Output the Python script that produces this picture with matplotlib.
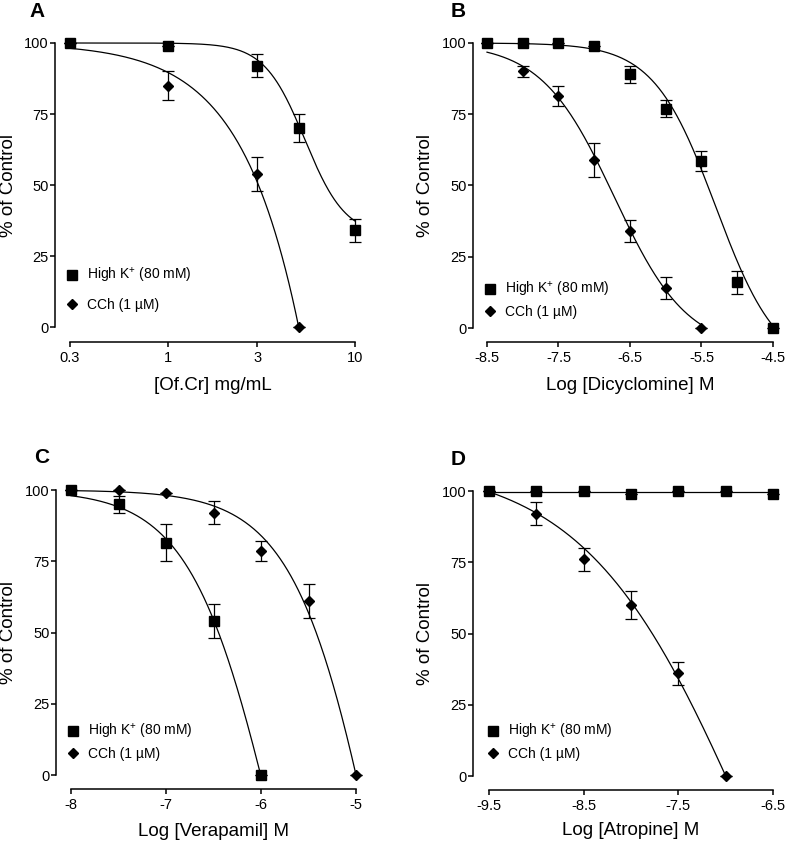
import numpy as np
import matplotlib
matplotlib.use("Agg")
import matplotlib.pyplot as plt
from matplotlib.lines import Line2D

plt.rcParams['font.family'] = ['Liberation Sans', 'DejaVu Sans']
plt.rcParams['mathtext.fontset'] = 'custom'
plt.rcParams['mathtext.rm'] = 'Liberation Sans'
plt.rcParams['mathtext.it'] = 'Liberation Sans'
plt.rcParams['axes.unicode_minus'] = False

# ---------------- data ----------------
Y_TICKS = [0, 25, 50, 75, 100]
LEGEND_LABELS = [r'High K$^{+}$ (80 mM)', 'CCh (1 µM)']

# Panel A
A_HK_X = [0.3, 1, 3, 5, 10]
A_HK = [100, 99, 92, 70, 34]
A_HK_ERR = [0, 0, 4, 5, 4]
A_CCH_X = [0.3, 1, 3, 5]
A_CCH = [100, 85, 54, 0]
A_CCH_ERR = [0, 5, 6, 0]
A_XTICKS = [0.3, 1, 3, 10]
A_XTICKLABELS = ['0.3', '1', '3', '10']
A_HK_FIT = (100, 32, 0.732, 4.0)      # top, bottom, log EC50, hill slope
A_CCH_FIT = (100, -5000, 1.8955, 1.42)

# Panel B
B_HK_X = [-8.5, -8, -7.5, -7, -6.5, -6, -5.5, -5, -4.5]
B_HK = [100, 100, 100, 99, 89, 77, 58.5, 16, 0]
B_HK_ERR = [0, 0, 0, 0, 3, 3, 3.5, 4, 0]
B_CCH_X = [-8.5, -8, -7.5, -7, -6.5, -6, -5.5]
B_CCH = [100, 90, 81.5, 59, 34, 14, 0]
B_CCH_ERR = [0, 2, 3.5, 6, 4, 4, 0]
B_XTICKS = [-8.5, -7.5, -6.5, -5.5, -4.5]
B_HK_FIT = (100, -15, -5.3, 1.0)
B_CCH_FIT = (100, -8, -6.72, 0.85)

# Panel C
C_HK_X = [-8, -7.5, -7, -6.5, -6]
C_HK = [100, 95, 81.5, 54, 0]
C_HK_ERR = [0, 3, 6.5, 6, 0]
C_CCH_X = [-8, -7.5, -7, -6.5, -6, -5.5, -5]
C_CCH = [100, 100, 99, 92, 78.5, 61, 0]
C_CCH_ERR = [0, 0, 0, 4, 3.5, 6, 0]
C_XTICKS = [-8, -7, -6, -5]
C_HK_FIT = (100, -150, -5.82, 0.96)
C_CCH_FIT = (100, -200, -4.682, 0.948)

# Panel D
D_HK_X = [-9.5, -9, -8.5, -8, -7.5, -7, -6.5]
D_HK = [100, 100, 100, 99, 100, 100, 99]
D_HK_ERR = [0, 0, 0, 0, 0, 0, 0]
D_CCH_X = [-9.5, -9, -8.5, -8, -7.5, -7]
D_CCH = [100, 92, 76, 60, 36, 0]
D_CCH_ERR = [0, 4, 4, 5, 4, 0]
D_XTICKS = [-9.5, -8.5, -7.5, -6.5]
D_HK_FIT = (99.6, 99.6, -8.0, 1.0)
D_CCH_FIT = (110, -150, -6.73, 0.5)


def hill(logx, fit):
    top, bottom, logc, h = fit
    return bottom + (top - bottom) / (1 + 10 ** (h * (logx - logc)))


W, H = 787, 846
fig = plt.figure(figsize=(W / 100, H / 100), dpi=100)


def px_axes(x0, x1, y_top, y_bot):
    return fig.add_axes([x0 / W, 1 - y_bot / H, (x1 - x0) / W, (y_bot - y_top) / H])


def style(ax, box, xlim, xticks, xticklabels, xlabel, left_off, bot_off,
          letter, letter_xy, ylab_right, xlab_top):
    x0, x1, yt, yb = box
    ax.set_xlim(*xlim)
    ax.set_ylim(0, 100)
    for s in ['top', 'right']:
        ax.spines[s].set_visible(False)
    ax.spines['left'].set_position(('outward', left_off * 0.72))
    ax.spines['bottom'].set_position(('outward', bot_off * 0.72))
    for s in ['left', 'bottom']:
        ax.spines[s].set_linewidth(1.1)
    ax.set_yticks(Y_TICKS)
    ax.set_xticks(xticks)
    ax.set_xticklabels(xticklabels)
    ax.minorticks_off()
    ax.tick_params(axis='both', direction='out', length=3.6, width=1.1,
                   labelsize=10.5)
    ax.tick_params(axis='y', pad=1)
    ax.tick_params(axis='x', pad=3)
    ax.set_xlabel(xlabel, fontsize=13.5)
    ax.set_ylabel('% of Control', fontsize=13.5)
    ax.xaxis.set_label_coords((x0 + x1) / 2 / W, 1 - xlab_top / H, transform=fig.transFigure)
    ax.yaxis.set_label_coords(ylab_right / W, 1 - (yt + yb) / 2 / H, transform=fig.transFigure)
    fig.text(letter_xy[0] / W, 1 - letter_xy[1] / H, letter, fontsize=15,
             fontweight='bold', ha='left', va='top')


def draw(ax, hkx, hk, hkerr, cx, c, cerr, hkfit, cfit, logscale=False):
    def lx(v):
        return np.log10(v) if logscale else np.asarray(v, float)
    for xs, fit in ((cx, cfit), (hkx, hkfit)):
        xx = np.linspace(lx(xs[0]), lx(xs[-1]), 400)
        yy = hill(xx, fit)
        if logscale:
            xx = 10 ** xx
        ax.plot(xx, yy, color='black', lw=0.9, clip_on=False, zorder=2)
    ax.errorbar(cx, c, yerr=cerr, fmt='D', ms=5.6, color='black', ecolor='black',
                elinewidth=0.9, capsize=4, capthick=0.9, clip_on=False, zorder=3)
    ax.errorbar(hkx, hk, yerr=hkerr, fmt='s', ms=7.5, color='black', ecolor='black',
                elinewidth=0.9, capsize=4, capthick=0.9, clip_on=False, zorder=4)


def legend(ax, x_marker, y_first, spacing):
    handles = [Line2D([], [], marker='s', ms=7.5, color='black', ls='none'),
               Line2D([], [], marker='D', ms=5.6, color='black', ls='none')]
    ax.legend(handles, LEGEND_LABELS, loc='upper left', frameon=False,
              bbox_to_anchor=((x_marker - 7) / W, 1 - (y_first - 10) / H),
              bbox_transform=fig.transFigure, borderpad=0, borderaxespad=0,
              handlelength=1.0, handletextpad=0.6, labelspacing=spacing,
              fontsize=10)


# Panel A
boxA = (70, 355, 43, 327)
axA = px_axes(*boxA)
axA.set_xscale('log')
draw(axA, A_HK_X, A_HK, A_HK_ERR, A_CCH_X, A_CCH, A_CCH_ERR, A_HK_FIT, A_CCH_FIT, logscale=True)
style(axA, boxA, (0.3, 10), A_XTICKS, A_XTICKLABELS, '[Of.Cr] mg/mL', 15, 15,
      'A', (29, 2), 17, 377)
legend(axA, 72, 276, 0.9)

# Panel B
boxB = (487, 773, 43, 328)
axB = px_axes(*boxB)
draw(axB, B_HK_X, B_HK, B_HK_ERR, B_CCH_X, B_CCH, B_CCH_ERR, B_HK_FIT, B_CCH_FIT)
style(axB, boxB, (-8.5, -4.5), B_XTICKS, [f'{t:g}' for t in B_XTICKS],
      'Log [Dicyclomine] M', 14, 14, 'B', (451, 2), 434, 377)
legend(axB, 490, 290, 0.45)

# Panel C
boxC = (71, 356, 490, 775)
axC = px_axes(*boxC)
draw(axC, C_HK_X, C_HK, C_HK_ERR, C_CCH_X, C_CCH, C_CCH_ERR, C_HK_FIT, C_CCH_FIT)
style(axC, boxC, (-8, -5), C_XTICKS, [f'{t:g}' for t in C_XTICKS],
      'Log [Verapamil] M', 15, 14, 'C', (34, 448), 17, 823)
legend(axC, 73, 732, 0.45)

# Panel D
boxD = (489, 773, 491, 776)
axD = px_axes(*boxD)
draw(axD, D_HK_X, D_HK, D_HK_ERR, D_CCH_X, D_CCH, D_CCH_ERR, D_HK_FIT, D_CCH_FIT)
style(axD, boxD, (-9.5, -6.5), D_XTICKS, [f'{t:g}' for t in D_XTICKS],
      'Log [Atropine] M', 16, 14, 'D', (451, 450), 434, 822)
legend(axD, 493, 732, 0.45)

fig.savefig('out.png', dpi=100)
